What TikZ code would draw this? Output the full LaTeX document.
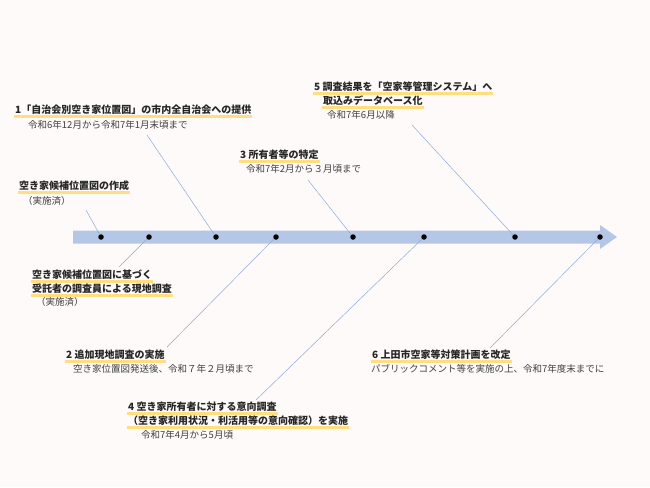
\documentclass[tikz,border=0pt]{standalone}
\usepackage{fontspec}
\setmainfont{Noto Sans CJK JP}
\definecolor{bgc}{RGB}{253,250,249}
\definecolor{arr}{RGB}{180,199,231}
\definecolor{lnc}{RGB}{143,170,220}
\definecolor{ylw}{RGB}{255,222,130}
\begin{document}
\begin{tikzpicture}[x=1pt,y=-1pt,
  ttl/.style={anchor=west,inner sep=1pt,font=\fontsize{10}{11}\selectfont\bfseries,text=black!85},
  sub/.style={anchor=west,inner sep=1pt,font=\fontsize{9.5}{10}\selectfont,text=black!75},
  dot/.style={circle,fill=black,inner sep=0pt,minimum size=5.5pt},
  lnk/.style={draw=lnc,line width=0.5pt},
  uline/.style={draw=ylw,line width=2.5pt}]
\useasboundingbox[fill=bgc] (0,0) rectangle (650,487);
\fill[arr] (73,230.5) -- (600,230.5) -- (600,225) -- (617,237) -- (600,249) -- (600,243.5) -- (73,243.5) -- cycle;
\foreach \x [count=\i] in {101,149,216,276,353,424,515,600} \node[dot] (d\i) at (\x,237) {};
\node[ttl] (t1) at (14,110) {1「自治会別空き家位置図」の市内全自治会への提供};
\node[sub] (s1) at (27,125) {令和6年12月から令和7年1月末頃まで};
\node[ttl] (t5a) at (313,87) {5 調査結果を「空家等管理システム」へ};
\node[ttl] (t5b) at (322,101) {取込みデータベース化};
\node[sub] (s5) at (326,115) {令和7年6月以降};
\node[ttl] (t3) at (239,155) {3 所有者等の特定};
\node[sub] (s3) at (245,169) {令和7年2月から３月頃まで};
\node[ttl] (t0) at (18,186) {空き家候補位置図の作成};
\node[sub] (s0) at (22,201) {（実施済）};
\node[ttl] (ta) at (31,275) {空き家候補位置図に基づく};
\node[ttl] (tb) at (31,289) {受託者の調査員による現地調査};
\node[sub] (sa) at (35,302) {（実施済）};
\node[ttl] (t2) at (65,355) {2 追加現地調査の実施};
\node[sub] (s2) at (72,369) {空き家位置図発送後、令和７年２月頃まで};
\node[ttl] (t4a) at (127,407) {4 空き家所有者に対する意向調査};
\node[ttl] (t4b) at (127,421) {（空き家利用状況・利活用等の意向確認）を実施};
\node[sub] (s4) at (140,435) {令和7年4月から5月頃};
\node[ttl] (t6) at (371,355) {6 上田市空家等対策計画を改定};
\node[sub] (s6) at (370,369) {パブリックコメント等を実施の上、令和7年度末までに};
\begin{scope}[on background layer/.try]
\foreach \n in {t1,t5a,t5b,t3,t0,ta,tb,t2,t4a,t4b,t6}
  \draw[uline] ([yshift=-0.5pt]\n.south west) -- ([yshift=-0.5pt]\n.south east);
\end{scope}
\coordinate (e1) at (86,210);
\coordinate (e2) at (119,267);
\coordinate (e3) at (147,135);
\coordinate (e4) at (167,347);
\coordinate (e5) at (308,180);
\coordinate (e6) at (256,400);
\coordinate (e7) at (412,125);
\coordinate (e8) at (490,348);
\foreach \i in {1,...,8} \draw[lnk] (d\i) -- (e\i);
\end{tikzpicture}
\end{document}
